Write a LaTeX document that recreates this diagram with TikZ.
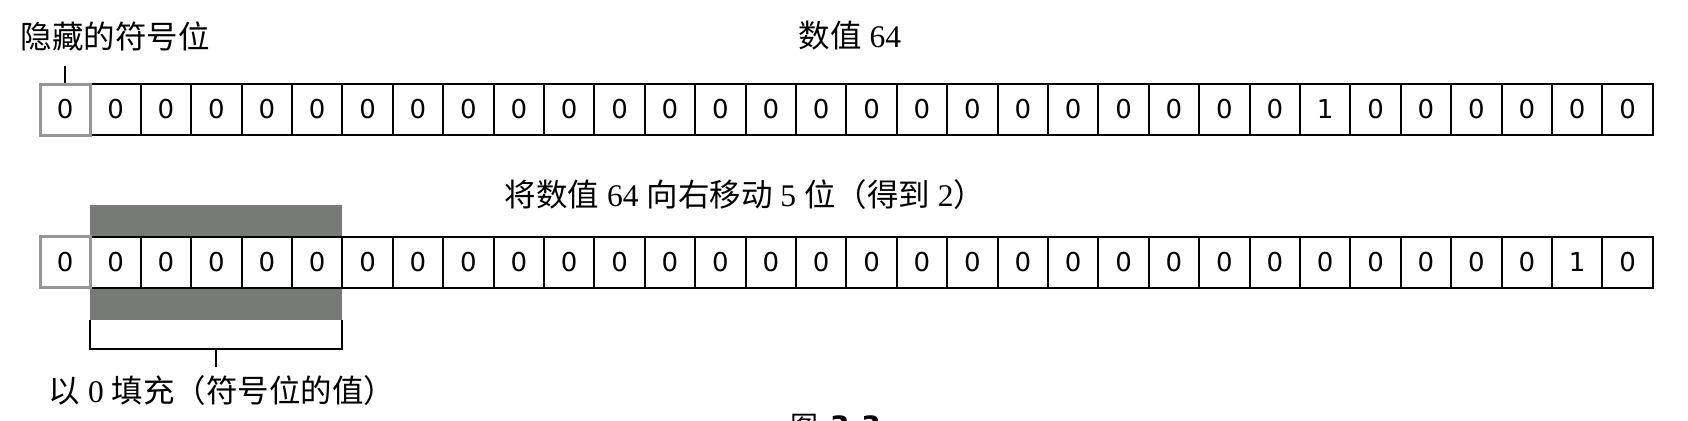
\documentclass[tikz,border=0pt]{standalone}
\usepackage{fontspec}
\usetikzlibrary{calc}
\setmainfont{Liberation Serif}
\newfontfamily\cjk{Noto Sans CJK SC}
\newfontfamily\bitfont{DejaVu Sans}
\newcommand\zh[1]{{\cjk #1}}
\definecolor{signgray}{RGB}{150,150,150}
\definecolor{padgray}{RGB}{120,122,120}

\begin{document}
\begin{tikzpicture}[
    x=1pt, y=-1pt,
    bitcell/.style={
        draw=black,
        fill=white,
        line width=2pt,
        minimum width=50.4pt,
        minimum height=51pt,
        inner sep=0pt,
        font=\bitfont\fontsize{26pt}{30pt}\selectfont
    },
    signcell/.style={
        bitcell,
        draw=signgray,
        line width=3pt
    },
    textlabel/.style={
        inner sep=0pt,
        font=\fontsize{31.5pt}{36pt}\selectfont
    },
    tick/.style={
        draw=black,
        line width=2pt
    }
]
    \useasboundingbox (0,0) rectangle (1688,420);

    % labels
    \node[textlabel] (signlabel) at (115,36) {\zh{隐藏的符号位}};
    \node[textlabel] (valuelabel) at (850,36) {\zh{数值} 64};
    \node[textlabel] (shiftlabel) at (745,195)
        {\zh{将数值} 64 \zh{向右移动} 5 \zh{位（得到} 2\zh{）}};
    \node[textlabel] (filllabel) at (222,391)
        {\zh{以} 0 \zh{填充（符号位的值）}};

    % value 64
    \foreach \i in {1,...,31}
        \node[bitcell] (a\i) at ({65.2+50.4*\i},109.5)
            {\ifnum\i=25 1\else 0\fi};
    \node[signcell] (a0) at (65.2,109.5) {0};
    \draw[tick] (a0.north) -- ++(0,-16);

    % padding band
    \coordinate (padtop) at (90.4,205);
    \coordinate (padbot) at (342.4,320);
    \fill[padgray] (padtop) rectangle (padbot);

    % shifted value 2
    \foreach \i in {1,...,31}
        \node[bitcell] (b\i) at ({65.2+50.4*\i},262)
            {\ifnum\i=30 1\else 0\fi};
    \node[signcell] (b0) at (65.2,262) {0};

    % bracket under the padded bits
    \draw[tick] (padtop |- padbot) -- ++(0,29) -| (padbot);
    \coordinate (bracketmid) at ($(padtop |- padbot)!0.5!(padbot)+(0,29)$);
    \draw[tick] (bracketmid) -- ++(0,18);

    % caption, cut by the page edge
    \node[anchor=base west, inner sep=0pt,
        font=\fontsize{28pt}{32pt}\selectfont] (figcaption) at (790,436)
        {\zh{图}\hspace{12pt}{\bitfont\bfseries 3-3}};
\end{tikzpicture}
\end{document}
